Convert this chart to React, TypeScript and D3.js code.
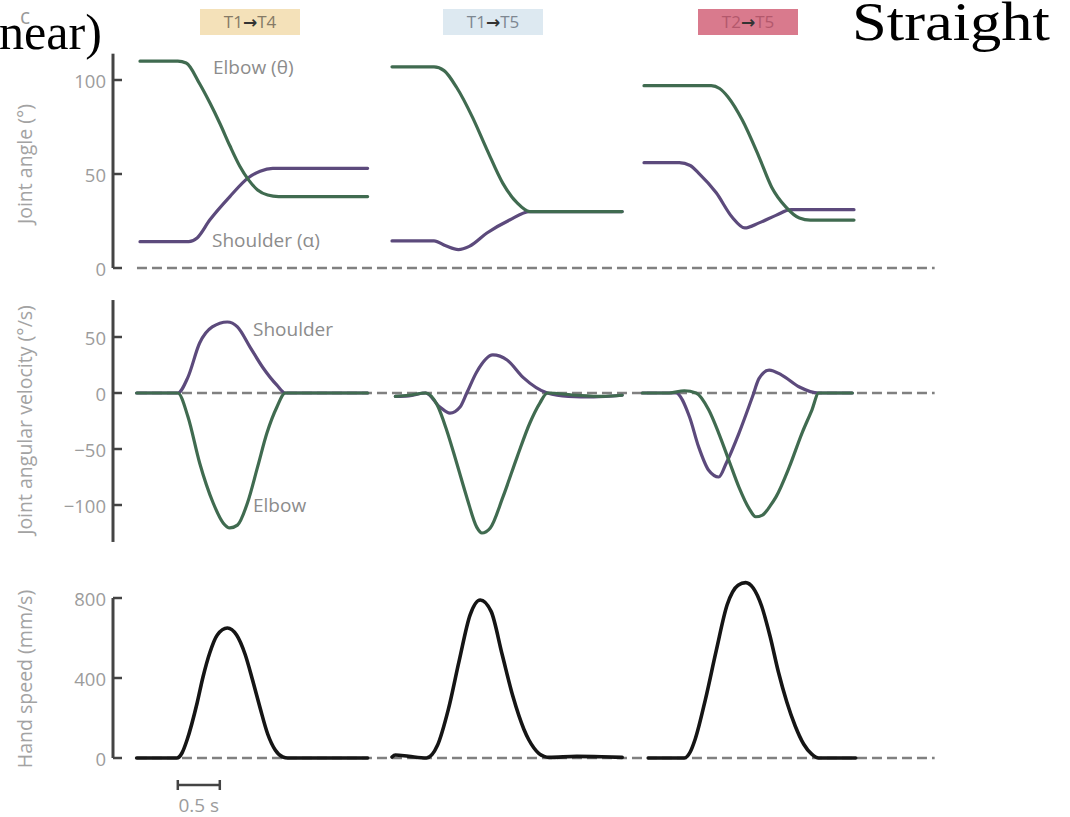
import * as d3 from "d3";

type Pt = [number, number];

// three movements, each drawn on a shared time axis (s)
const columnStarts = [0, 3, 6];
const columnFrom = ["T1", "T1", "T2"];
const columnTo = ["T4", "T5", "T5"];
const columnFills = ["#f4e1b9", "#dde9f1", "#d97a8d"];
const columnInk = ["#857a66", "#7d8791", "#b3586c"];

const angleTicks = [0, 50, 100];
const velocityTicks = [-100, -50, 0, 50];
const speedTicks = [0, 400, 800];

// joint angle (deg) vs time within movement (s)
const elbowAngle1: Pt[] = [[0, 110], [0.45, 110], [0.55, 109], [0.71, 98], [0.83, 88], [0.95, 77], [1.07, 65], [1.19, 54], [1.29, 47], [1.4, 41.5], [1.52, 38.8], [1.65, 38], [2.71, 38]];
const shoulderAngle1: Pt[] = [[0, 14], [0.58, 14], [0.68, 16], [0.83, 25.5], [1.07, 38], [1.29, 48], [1.43, 51.5], [1.58, 53], [2.71, 53]];
const elbowAngle2: Pt[] = [[0, 107], [0.5, 107], [0.62, 105], [0.77, 96], [0.96, 80], [1.13, 63], [1.32, 45], [1.49, 34.6], [1.64, 30], [2.74, 30]];
const shoulderAngle2: Pt[] = [[0, 14.4], [0.5, 14.4], [0.64, 11.8], [0.79, 9.8], [0.92, 11.5], [1.13, 18.6], [1.4, 25.5], [1.64, 30], [2.74, 30]];
const elbowAngle3: Pt[] = [[0, 97], [0.8, 97], [0.9, 95.5], [1.0, 91], [1.17, 78.7], [1.37, 59], [1.52, 43], [1.69, 32.4], [1.85, 26.6], [1.98, 25.5], [2.5, 25.5]];
const shoulderAngle3: Pt[] = [[0, 56], [0.42, 56], [0.55, 54.5], [0.65, 50.5], [0.86, 40], [1.05, 27], [1.2, 21.3], [1.37, 24], [1.57, 28], [1.75, 31], [2.5, 31]];

// joint angular velocity (deg/s)
const elbowVel1: Pt[] = [[-0.04, 0], [0.45, 0], [0.57, -21], [0.71, -62.5], [0.87, -98], [0.99, -116], [1.07, -120.5], [1.16, -118], [1.28, -98], [1.4, -66], [1.51, -36], [1.63, -12.5], [1.73, 0], [2.71, 0]];
const shoulderVel1: Pt[] = [[-0.04, 0], [0.45, 0], [0.57, 14], [0.71, 44.6], [0.86, 59], [1.04, 63.4], [1.16, 59], [1.31, 41], [1.46, 23], [1.63, 7], [1.73, 0], [2.71, 0]];
const elbowVel2: Pt[] = [[0.04, -3], [0.2, -2], [0.4, 0], [0.54, -11], [0.65, -33], [0.77, -62.5], [0.89, -93], [1.01, -120], [1.07, -125], [1.17, -120.5], [1.32, -93], [1.49, -57], [1.64, -27], [1.76, -9], [1.85, 0], [2.2, -2], [2.5, -3], [2.74, -2]];
const shoulderVel2: Pt[] = [[0.04, -3], [0.2, -2.5], [0.4, 0], [0.57, -12.5], [0.69, -18], [0.81, -12.5], [0.89, 0], [1.01, 19], [1.2, 34], [1.37, 29.5], [1.56, 14], [1.85, 0], [2.1, -3], [2.4, -3.5], [2.74, -2]];
const elbowVel3: Pt[] = [[-0.02, 0], [0.3, 0], [0.48, 2], [0.62, 0], [0.77, -15], [0.89, -36], [1.01, -60], [1.13, -84], [1.25, -103], [1.33, -110.5], [1.41, -109], [1.5, -101], [1.57, -93], [1.73, -66], [1.88, -36], [2.0, -15], [2.08, 0], [2.48, 0]];
const shoulderVel3: Pt[] = [[-0.02, 0], [0.38, 0], [0.54, -21], [0.65, -48], [0.77, -69], [0.89, -75], [0.98, -62.5], [1.13, -36], [1.29, -3.6], [1.37, 13], [1.49, 20.5], [1.64, 16], [1.85, 5.4], [2.08, 0], [2.48, 0]];

// hand speed (mm/s)
const speed1: Pt[] = [[-0.04, 0], [0.44, 0], [0.5, 25], [0.56, 90], [0.68, 275], [0.75, 405], [0.83, 525], [0.92, 615], [1.04, 650], [1.15, 615], [1.25, 520], [1.34, 390], [1.43, 250], [1.52, 120], [1.61, 40], [1.7, 5], [1.76, 0], [2.71, 0]];
const speed2: Pt[] = [[0, 5], [0.04, 15], [0.2, 8], [0.41, 0], [0.54, 62], [0.67, 242], [0.8, 487], [0.93, 716], [1.05, 790], [1.18, 733], [1.31, 520], [1.44, 307], [1.57, 144], [1.63, 90], [1.69, 50], [1.75, 22], [1.81, 8], [1.87, 3], [2.2, 8], [2.5, 6], [2.74, 3]];
const speed3: Pt[] = [[0.05, 0], [0.48, 0], [0.55, 30], [0.61, 95], [0.73, 291], [0.86, 537], [0.99, 766], [1.12, 864], [1.21, 877], [1.3, 850], [1.4, 760], [1.5, 610], [1.6, 430], [1.7, 280], [1.8, 160], [1.9, 70], [2.0, 18], [2.08, 0], [2.52, 0]];

const elbowAngles = [elbowAngle1, elbowAngle2, elbowAngle3];
const shoulderAngles = [shoulderAngle1, shoulderAngle2, shoulderAngle3];
const elbowVels = [elbowVel1, elbowVel2, elbowVel3];
const shoulderVels = [shoulderVel1, shoulderVel2, shoulderVel3];
const speeds = [speed1, speed2, speed3];

const GREEN = "#406b50";
const PURPLE = "#5c4a7c";
const SANS = "'Open Sans', 'DejaVu Sans', sans-serif";
const SERIF = "'Liberation Serif', 'Times New Roman', serif";
const AX = 113;

export default function App() {
  const x = d3.scaleLinear().domain([0, 1]).range([140, 224]);
  const yAngle = d3.scaleLinear().domain([0, 100]).range([268, 80]);
  const yVel = d3.scaleLinear().domain([0, 50]).range([393, 337]);
  const ySpeed = d3.scaleLinear().domain([0, 800]).range([758, 598]);

  const path = (data: Pt[], col: number, y: d3.ScaleLinear<number, number>) =>
    d3.line<Pt>()
      .x(d => x(d[0] + columnStarts[col]))
      .y(d => y(d[1]))
      .curve(d3.curveMonotoneX)(data) || "";

  const panels = [
    { y: yAngle, ticks: angleTicks, lo: 0, hi: 114, title: "Joint angle (°)", cy: 164 },
    { y: yVel, ticks: velocityTicks, lo: -133, hi: 83, title: "Joint angular velocity (°/s)", cy: 420 },
    { y: ySpeed, ticks: speedTicks, lo: 0, hi: 800, title: "Hand speed (mm/s)", cy: 679 },
  ];

  const x0 = x(-0.036), x1 = x(9.46);

  return (
    <div style={{ position: "fixed", left: 0, top: 0 }}>
      <svg width={1070} height={817} style={{ display: "block", background: "#fff" }}>
        {/* column header chips */}
        {columnStarts.map((s, i) => {
          const cx = [250, 493, 748][i];
          return (
            <g key={"h" + i}>
              <rect x={cx - 50} y={9} width={100} height={26} fill={columnFills[i]} />
              <text x={cx} y={28} textAnchor="middle" fontFamily={SANS} fontSize={17} fill={columnInk[i]}>
                {columnFrom[i]}
                <tspan fill="#333" fontWeight="bold" fontFamily="'DejaVu Sans', sans-serif">→</tspan>
                {columnTo[i]}
              </text>
            </g>
          );
        })}

        {panels.map((p, k) => (
          <g key={"p" + k}>
            <line x1={x0} x2={x1} y1={p.y(0)} y2={p.y(0)} stroke="#808080" strokeWidth={2.5} strokeDasharray="10 5" />
            <line x1={AX} x2={AX} y1={p.y(p.hi)} y2={p.y(p.lo)} stroke="#444" strokeWidth={3} />
            {p.ticks.map(t => (
              <g key={t}>
                <line x1={AX} x2={AX + 9} y1={p.y(t)} y2={p.y(t)} stroke="#444" strokeWidth={2.5} />
                <text x={106} y={p.y(t)} textAnchor="end" dominantBaseline="central" fontFamily={SANS} fontSize={18.5} fill="#9c9c9c">
                  {t < 0 ? "\u2212" + Math.abs(t) : t}
                </text>
              </g>
            ))}
            <text
              transform={`translate(24,${p.cy}) rotate(-90)`}
              textAnchor="middle" dominantBaseline="central" fontFamily={SANS} fontSize={19.5} fill="#a3a3a3"
            >
              {p.title}
            </text>
          </g>
        ))}

        {/* traces */}
        {columnStarts.map((s, i) => (
          <g key={"c" + i} fill="none" strokeLinecap="round" strokeLinejoin="round">
            <path d={path(shoulderAngles[i], i, yAngle)} stroke={PURPLE} strokeWidth={3.2} />
            <path d={path(elbowAngles[i], i, yAngle)} stroke={GREEN} strokeWidth={3.2} />
            <path d={path(shoulderVels[i], i, yVel)} stroke={PURPLE} strokeWidth={3.2} />
            <path d={path(elbowVels[i], i, yVel)} stroke={GREEN} strokeWidth={3.2} />
            <path d={path(speeds[i], i, ySpeed)} stroke="#151515" strokeWidth={3.6} />
          </g>
        ))}

        {/* inline labels */}
        <g fontFamily={SANS} fontSize={19} fill="#8c8c8c">
          <text x={213} y={74}>Elbow (θ)</text>
          <text x={212} y={247}>Shoulder (α)</text>
          <text x={253} y={336}>Shoulder</text>
          <text x={253} y={512}>Elbow</text>
        </g>

        {/* time scale bar */}
        <g stroke="#444" strokeWidth={2.5}>
          <line x1={x(0.45)} x2={x(0.95)} y1={785} y2={785} />
          <line x1={x(0.45)} x2={x(0.45)} y1={780} y2={790} />
          <line x1={x(0.95)} x2={x(0.95)} y1={780} y2={790} />
        </g>
        <text x={x(0.7)} y={812} textAnchor="middle" fontFamily={SANS} fontSize={19} fill="#9c9c9c">0.5 s</text>

        {/* slide overlay text */}
        <text x={-1} y={49} textLength={103} lengthAdjust="spacingAndGlyphs" fontFamily={SERIF} fontSize={50} fill="#000">near)</text>
        <text x={25} y={24} textAnchor="middle" fontFamily={SANS} fontSize={21} fill="#9a9a9a">c</text>
        <text x={852} y={40} textLength={198} lengthAdjust="spacingAndGlyphs" fontFamily={SERIF} fontSize={54} fill="#000">Straight</text>
      </svg>
    </div>
  );
}
